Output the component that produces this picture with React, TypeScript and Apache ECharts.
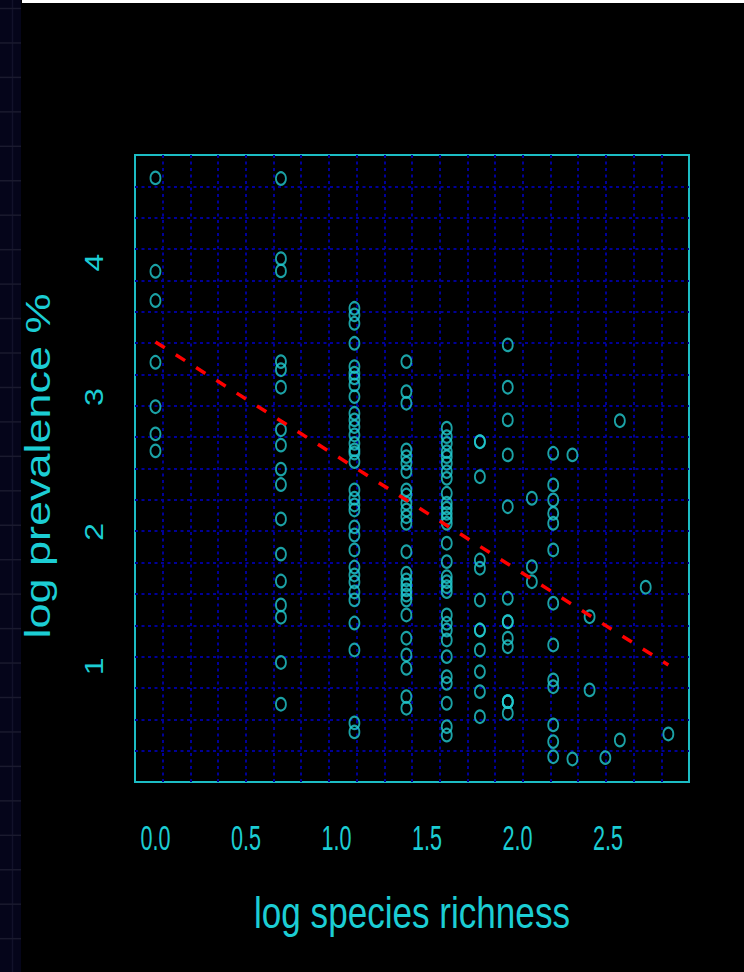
import React, { useEffect, useRef } from "react";
import * as echarts from "echarts";

// log species richness levels (x) and the log prevalence % values read at each level (y)
const richnessLevels = [0, 0.693, 1.099, 1.386, 1.609, 1.792, 1.946, 2.079, 2.197, 2.303, 2.398, 2.485, 2.565, 2.708, 2.833];

const prevAt0 = [4.629, 3.935, 3.718, 3.259, 2.929, 2.727, 2.601];
const prevAt0693 = [4.624, 4.029, 3.938, 3.264, 3.204, 3.074, 2.758, 2.644, 2.465, 2.351, 2.095, 1.834, 1.634, 1.456, 1.365, 1.029, 0.719];
const prevAt1099 = [3.66, 3.611, 3.549, 3.4, 3.227, 3.178, 3.143, 3.091, 3.004, 2.88, 2.831, 2.781, 2.719, 2.657, 2.608, 2.585, 2.521, 2.311, 2.249, 2.199, 2.162, 2.036, 1.976, 1.865, 1.738, 1.679, 1.627, 1.553, 1.494, 1.322, 1.122, 0.58, 0.513];
const prevAt1386 = [3.264, 3.041, 2.955, 2.608, 2.558, 2.509, 2.447, 2.311, 2.273, 2.212, 2.162, 2.112, 2.063, 1.852, 1.692, 1.642, 1.605, 1.568, 1.53, 1.493, 1.382, 1.209, 1.085, 0.986, 0.775, 0.689];
const prevAt1609 = [2.769, 2.707, 2.657, 2.595, 2.558, 2.509, 2.447, 2.397, 2.286, 2.212, 2.175, 2.137, 2.1, 2.063, 1.915, 1.778, 1.666, 1.629, 1.592, 1.555, 1.382, 1.32, 1.27, 1.196, 1.072, 0.923, 0.874, 0.726, 0.552, 0.49];
const prevAt1792 = [2.669, 2.669, 2.409, 1.79, 1.729, 1.493, 1.27, 1.27, 1.122, 0.961, 0.812, 0.626];
const prevAt1946 = [3.388, 3.074, 2.831, 2.571, 2.186, 1.506, 1.332, 1.332, 1.209, 1.146, 0.738, 0.738, 0.738, 0.652];
const prevAt2079 = [2.249, 1.741, 1.629];
const prevAt2197 = [2.583, 2.348, 2.236, 2.137, 2.063, 1.865, 1.469, 1.159, 0.899, 0.849, 0.565, 0.441, 0.329];
const prevAt2303 = [2.571, 0.312];
const prevAt2398 = [1.369, 0.825];
const prevAt2485 = [0.322];
const prevAt2565 = [2.825, 0.453];
const prevAt2708 = [1.588];
const prevAt2833 = [0.498];

const prevalenceByLevel = [
  prevAt0, prevAt0693, prevAt1099, prevAt1386, prevAt1609, prevAt1792, prevAt1946,
  prevAt2079, prevAt2197, prevAt2303, prevAt2398, prevAt2485, prevAt2565, prevAt2708, prevAt2833,
];

// fitted regression line (end points)
const fitX = [0, 2.833];
const fitY = [3.41, 1.01];

// tick labels
const xTicks = [0, 0.5, 1, 1.5, 2, 2.5];
const yTicks = [1, 2, 3, 4];

const CYAN = "#22cacf";
const FRAME = "#1cbcc4";
const LABEL = "#1ccdd4";
const GRIDLINE = "#000098";
const SANS = "'Liberation Sans', Arial, sans-serif";

export default function App() {
  const ref = useRef<HTMLDivElement>(null);

  useEffect(() => {
    if (!ref.current) return;
    const chart = echarts.init(ref.current, null, { renderer: "svg" });

    const points: number[][] = [];
    richnessLevels.forEach((x, i) => {
      prevalenceByLevel[i].forEach((y) => points.push([x, y]));
    });

    const gridSplit = {
      show: true,
      showMinLine: false,
      showMaxLine: false,
      lineStyle: { color: GRIDLINE, width: 2, type: [3, 3.5] },
    };

    chart.setOption({
      animation: false,
      backgroundColor: "#000000",
      grid: {
        left: 135,
        top: 155,
        width: 554,
        height: 627,
        show: true,
        borderColor: FRAME,
        borderWidth: 2,
        backgroundColor: "transparent",
      },
      xAxis: [
        {
          type: "value",
          min: -0.113,
          max: 2.947,
          axisLine: { show: false },
          axisTick: { show: false },
          splitLine: { show: false },
          axisLabel: { show: false },
        },
        {
          type: "value",
          min: 0,
          max: 20,
          interval: 1,
          position: "top",
          axisLine: { show: false },
          axisTick: { show: false },
          axisLabel: { show: false },
          splitLine: gridSplit,
        },
      ],
      yAxis: [
        {
          type: "value",
          min: 0.141,
          max: 4.799,
          axisLine: { show: false },
          axisTick: { show: false },
          splitLine: { show: false },
          axisLabel: { show: false },
        },
        {
          type: "value",
          min: 0,
          max: 20,
          interval: 1,
          position: "right",
          axisLine: { show: false },
          axisTick: { show: false },
          axisLabel: { show: false },
          splitLine: gridSplit,
        },
      ],
      series: [
        {
          type: "scatter",
          xAxisIndex: 0,
          yAxisIndex: 0,
          data: points,
          symbol: "circle",
          symbolSize: [10, 12.5],
          itemStyle: { color: "rgba(0,0,0,0)", borderColor: CYAN, borderWidth: 2 },
          z: 3,
        },
        {
          type: "line",
          xAxisIndex: 0,
          yAxisIndex: 0,
          data: fitX.map((x, i) => [x, fitY[i]]),
          symbol: "none",
          lineStyle: { color: "#ff0000", width: 3.5, type: [11, 13] },
          z: 4,
        },
      ],
    });

    // tick labels placed through the axes' own scales
    const xLabelY = 837;
    const yLabelX = 94;
    const xLabels = xTicks.map((v) => ({
      type: "text",
      x: chart.convertToPixel({ xAxisIndex: 0 }, v) as number,
      y: xLabelY,
      scaleX: 0.6,
      style: {
        text: v.toFixed(1),
        fill: LABEL,
        fontSize: 36,
        fontFamily: SANS,
        align: "center",
        verticalAlign: "middle",
      },
      silent: true,
    }));
    const yLabels = yTicks.map((v) => ({
      type: "text",
      x: yLabelX,
      y: chart.convertToPixel({ yAxisIndex: 0 }, v) as number,
      rotation: Math.PI / 2,
      scaleY: 0.78,
      style: {
        text: String(v),
        fill: LABEL,
        fontSize: 32,
        fontFamily: SANS,
        align: "center",
        verticalAlign: "middle",
      },
      silent: true,
    }));

    const strip: any[] = [
      { type: "rect", shape: { x: 0, y: 0, width: 21, height: 972 }, style: { fill: "#05051a" }, silent: true },
      { type: "line", shape: { x1: 12.5, y1: 0, x2: 12.5, y2: 972 }, style: { stroke: "#12122a", lineWidth: 1.5 }, silent: true },
    ];
    for (let y = 8.5; y < 972; y += 34.45) {
      strip.push({ type: "line", shape: { x1: 0, y1: y, x2: 21, y2: y }, style: { stroke: "#1a1a2e", lineWidth: 1.5 }, silent: true });
    }

    chart.setOption({
      graphic: [
        ...strip,
        { type: "rect", shape: { x: 22, y: 0, width: 722, height: 3 }, style: { fill: "#ffffff" }, silent: true },
        ...xLabels,
        ...yLabels,
        {
          type: "text",
          x: 412,
          y: 912,
          scaleX: 0.78,
          style: {
            text: "log species richness",
            fill: LABEL,
            fontSize: 45,
            fontFamily: SANS,
            align: "center",
            verticalAlign: "middle",
          },
          silent: true,
        },
        {
          type: "text",
          x: 38,
          y: 466,
          rotation: Math.PI / 2,
          scaleY: 0.78,
          style: {
            text: "log prevalence %",
            fill: LABEL,
            fontSize: 45,
            fontFamily: SANS,
            align: "center",
            verticalAlign: "middle",
          },
          silent: true,
        },
      ],
    });

    return () => chart.dispose();
  }, []);

  return (
    <div
      ref={ref}
      style={{ position: "fixed", left: 0, top: 0, width: 744, height: 972 }}
    />
  );
}
